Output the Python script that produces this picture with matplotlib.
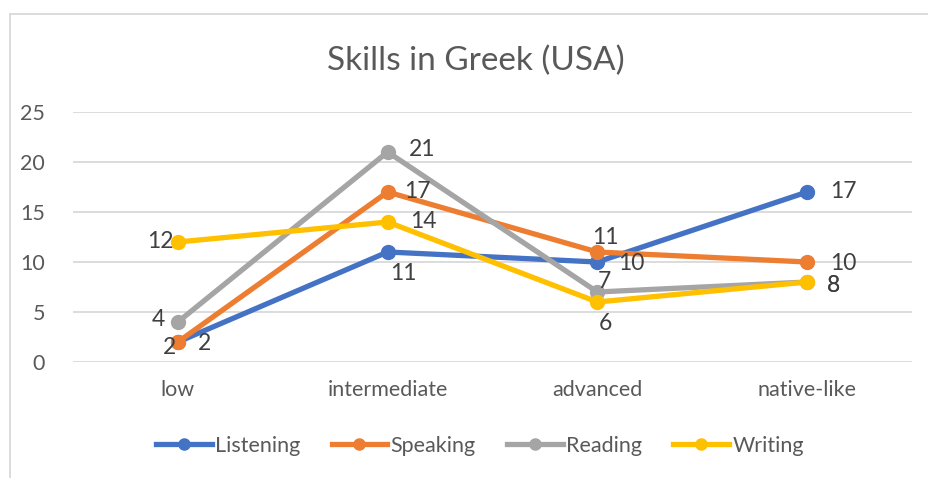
import matplotlib.pyplot as plt
from matplotlib.lines import Line2D

categories = ['low', 'intermediate', 'advanced', 'native-like']
listening = [2, 11, 10, 17]
speaking = [2, 17, 11, 10]
reading = [4, 21, 7, 8]
writing = [12, 14, 6, 8]

series_names = ['Listening', 'Speaking', 'Reading', 'Writing']
colors = ['#4472C4', '#ED7D31', '#A5A5A5', '#FFC000']

# label offsets in pixels (dx, dy) per point, mimicking Excel placement
label_offsets = {
    'Listening': [(27, -1), (16, -21), (34, -2), (36, 0)],
    'Speaking': [(-8, -6), (30, 0), (8, 14), (36, -1)],
    'Reading': [(-20, 2), (35, 2), (7, 10), (26, -3)],
    'Writing': [(-18, 0), (36, 0), (8, -22), (26, -3)],
}

plt.rcParams['font.family'] = ['Lato', 'DejaVu Sans']

W, H = 929, 478
fig = plt.figure(figsize=(W / 100, H / 100), dpi=100)
ax = fig.add_axes([73 / W, 1 - 362 / H, (912 - 73) / W, 250 / H])

x = list(range(len(categories)))
data = [listening, speaking, reading, writing]
for name, vals, col in zip(series_names, data, colors):
    ax.plot(x, vals, color=col, lw=3.8, marker='o', markersize=10,
            solid_capstyle='round', zorder=3, label=name)

for name, vals in zip(series_names, data):
    for xi, v, (dx, dy) in zip(x, vals, label_offsets[name]):
        ax.annotate(str(v), (xi, v), xytext=(dx, dy), textcoords='offset pixels',
                    ha='center', va='center', fontsize=16.5, color='#404040',
                    zorder=4)

ax.set_xlim(-0.5, 3.5)
ax.set_ylim(0, 25)
ax.set_yticks(range(0, 26, 5))
ax.set_xticks(x)
ax.set_xticklabels(categories)
ax.grid(axis='y', color='#D9D9D9', lw=1.3, zorder=0)
ax.set_axisbelow(True)
for s in ax.spines.values():
    s.set_visible(False)
ax.tick_params(axis='both', length=0, labelsize=15.5, labelcolor='#595959')
ax.tick_params(axis='y', pad=20)
ax.tick_params(axis='x', pad=13)

fig.text(476 / W, 1 - 61 / H, 'Skills in Greek (USA)', ha='center', va='center',
         fontsize=24, color='#595959')

handles = [Line2D([], [], color=c, lw=3.8, marker='o', markersize=8)
           for c in colors]
fig.legend(handles, series_names, loc='center', bbox_to_anchor=(480 / W, 1 - 446 / H),
           ncol=4, frameon=False, fontsize=15.5, labelcolor='#595959',
           handlelength=2.6, handletextpad=0.15, columnspacing=1.45)

# chart border (top and left edges visible)
fig.add_artist(Line2D([10 / W, 1], [1 - 13.5 / H, 1 - 13.5 / H], color='#D9D9D9', lw=1.3))
fig.add_artist(Line2D([10 / W, 10 / W], [0, 1 - 13.5 / H], color='#D9D9D9', lw=1.3))

fig.savefig('out.png', dpi=100)
